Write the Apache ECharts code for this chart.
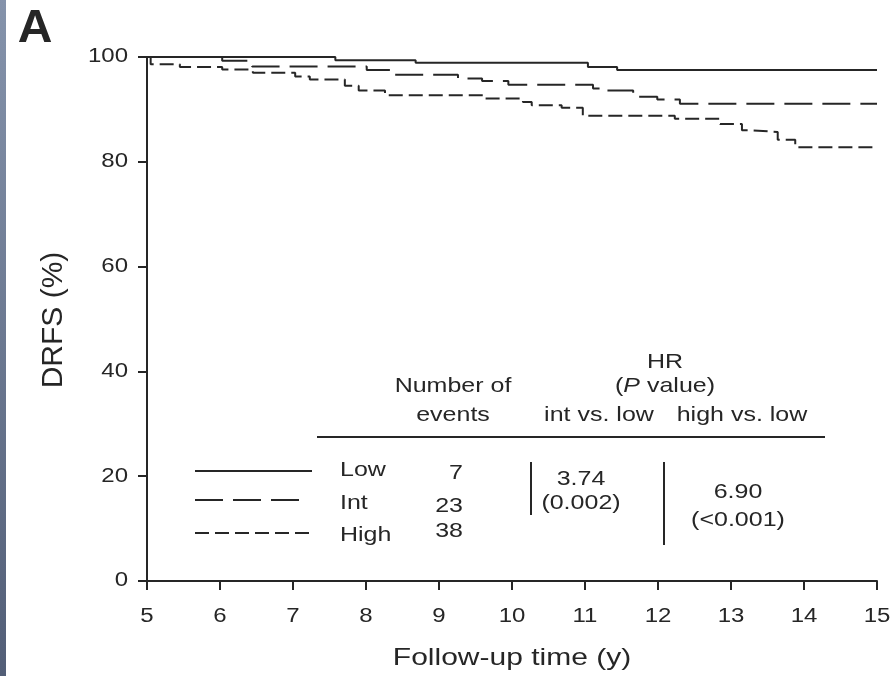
<!DOCTYPE html>
<html>
<head>
<meta charset="utf-8">
<script src="https://cdn.jsdelivr.net/npm/echarts@6/dist/echarts.min.js"></script>
<style>
  html, body { margin: 0; padding: 0; background: #fff; }
  #chart { width: 896px; height: 676px; }
</style>
</head>
<body>
<div id="chart"></div>
<script>
// Kaplan-Meier DRFS curves by risk group (step values: survival % after each event time)
const xTicks = [5, 6, 7, 8, 9, 10, 11, 12, 13, 14, 15];
const yTicks = [0, 20, 40, 60, 80, 100];

const lowTimes = [5, 7.58, 8.68, 11.04, 11.44, 15];
const lowSurv  = [100, 99.4, 98.9, 98.1, 97.5, 97.5];

const intTimes = [5, 6.03, 6.44, 8.01, 8.33, 9.26, 9.59, 9.95, 11.11, 11.27, 11.66, 11.99, 12.3, 15];
const intSurv  = [100, 99.3, 98.2, 97.5, 96.6, 95.9, 95.4, 94.7, 94.0, 93.6, 92.4, 91.9, 91.1, 91.1];

const highTimes = [5, 5.05, 5.45, 6.03, 6.45, 7.03, 7.23, 7.71, 7.9, 8.26, 9.6, 10.15, 10.27, 10.68, 10.97, 12.23, 12.85, 13.15, 13.3, 13.64, 13.88, 15];
const highSurv  = [100, 98.6, 98.1, 97.6, 97.0, 96.3, 95.7, 94.5, 93.6, 92.7, 92.1, 91.4, 90.8, 90.3, 88.8, 88.2, 87.2, 86.0, 85.7, 84.2, 82.8, 82.8];

// Summary table
const groupNames = ['Low', 'Int', 'High'];
const eventCounts = ['7', '23', '38'];
const hrIntVsLow = ['3.74', '(0.002)'];
const hrHighVsLow = ['6.90', '(<0.001)'];

const INK = '#262626';
const FONT = '"Liberation Sans", Arial, Helvetica, sans-serif';
const LINE_W = 2;
const DASH_LONG = [28, 10];
const DASH_SHORT = [14, 6];

function zip(xs, ys) { return xs.map((x, i) => [x, ys[i]]); }

function stepSeries(name, xs, ys, dash) {
  return {
    name: name,
    type: 'line',
    step: 'end',
    symbol: 'none',
    clip: false,
    data: zip(xs, ys),
    lineStyle: { color: INK, width: LINE_W, type: dash },
    emphasis: { disabled: true }
  };
}

// text drawn with a vertical squeeze so letters read wide like the figure's type
function label(x, y, text, opts) {
  opts = opts || {};
  return {
    type: 'text',
    x: x, y: y,
    scaleX: opts.sx || 1,
    scaleY: opts.sy || 0.8,
    rotation: opts.rot || 0,
    silent: true,
    z: 10,
    style: {
      x: 0, y: 0,
      text: text,
      fill: INK,
      fontFamily: FONT,
      fontSize: opts.size || 25,
      fontWeight: opts.weight || 'normal',
      align: opts.align || 'center',
      verticalAlign: 'middle',
      rich: opts.rich
    }
  };
}

function seg(x1, y1, x2, y2, dash, w) {
  return {
    type: 'line', silent: true, z: 10,
    shape: { x1: x1, y1: y1, x2: x2, y2: y2 },
    style: { stroke: INK, lineWidth: w || LINE_W, lineDash: dash || null }
  };
}

const chart = echarts.init(document.getElementById('chart'), null, { renderer: 'canvas' });

const axisCommon = {
  axisLine: { show: true, onZero: false, lineStyle: { color: INK, width: 2 } },
  axisTick: { show: true, inside: false, length: 9, lineStyle: { color: INK, width: 2 } },
  axisLabel: { show: false },
  splitLine: { show: false }
};

chart.setOption({
  animation: false,
  backgroundColor: '#ffffff',
  grid: { left: 147, right: 19, top: 57, bottom: 95, containLabel: false },
  xAxis: Object.assign({ type: 'value', min: 5, max: 15, interval: 1 }, axisCommon),
  yAxis: Object.assign({ type: 'value', min: 0, max: 100, interval: 20 }, axisCommon),
  series: [
    stepSeries('Low', lowTimes, lowSurv, 'solid'),
    stepSeries('Int', intTimes, intSurv, DASH_LONG),
    stepSeries('High', highTimes, highSurv, DASH_SHORT)
  ]
});

const g = [];

// blue-grey edge strip on the left
g.push({
  type: 'rect', silent: true, z: 0,
  shape: { x: 0, y: 0, width: 6, height: 676 },
  style: {
    fill: new echarts.graphic.LinearGradient(0, 0, 0, 1, [
      { offset: 0, color: '#8593ab' },
      { offset: 1, color: '#525e77' }
    ])
  }
});

// panel letter
g.push(label(35, 29, 'A', { size: 48, weight: 'bold', sy: 0.98 }));

// tick labels placed through the axis scales
xTicks.forEach(function (v) {
  const p = chart.convertToPixel({ gridIndex: 0 }, [v, 0]);
  g.push(label(p[0], 617, String(v), { size: 24, sy: 0.83 }));
});
yTicks.forEach(function (v) {
  const p = chart.convertToPixel({ gridIndex: 0 }, [5, v]);
  g.push(label(128, p[1], String(v), { size: 24, sy: 0.83, align: 'right' }));
});

// axis titles
g.push(label(512, 659, 'Follow-up time (y)', { size: 30, sy: 0.77 }));
g.push(label(54, 320, 'DRFS (%)', { size: 30, sy: 1, rot: Math.PI / 2 }));

// table header
g.push(label(665, 362, 'HR'));
g.push(label(665, 386, '({it|P} value)', {
  rich: { it: { fontStyle: 'italic', fontFamily: FONT, fontSize: 25, fill: INK } }
}));
g.push(label(453, 386, 'Number of'));
g.push(label(453, 415, 'events'));
g.push(label(599, 415, 'int vs. low'));
g.push(label(742, 415, 'high vs. low'));
g.push(seg(317, 437, 825, 437, null, 2.2));

// legend keys
g.push(seg(195, 471, 312, 471, null));
g.push(seg(195, 500, 302, 500, DASH_LONG));
g.push(seg(195, 533, 312, 533, DASH_SHORT));

const rowY = [470, 503, 535];
const numY = [473, 506, 531];
groupNames.forEach(function (n, i) {
  g.push(label(340, rowY[i], n, { align: 'left' }));
  g.push(label(463, numY[i], eventCounts[i], { align: 'right' }));
});

// hazard ratios
g.push(seg(531, 462, 531, 515, null, 2));
g.push(seg(664, 462, 664, 545, null, 2));
g.push(label(581, 479, hrIntVsLow[0]));
g.push(label(581, 503, hrIntVsLow[1]));
g.push(label(738, 492, hrHighVsLow[0]));
g.push(label(738, 520, hrHighVsLow[1]));

chart.setOption({ graphic: g });
</script>
</body>
</html>
